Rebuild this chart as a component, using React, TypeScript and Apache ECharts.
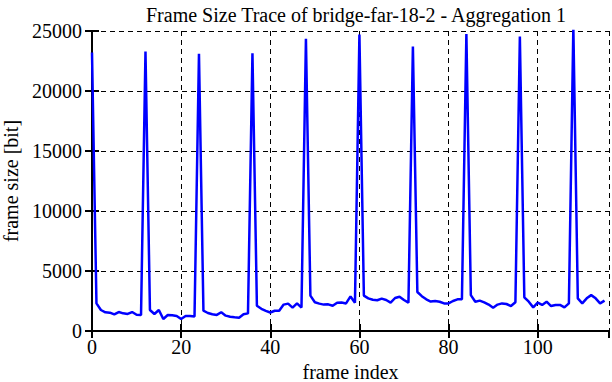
import React, { useEffect, useRef } from "react";
import * as echarts from "echarts";

const titleText = "Frame Size Trace of bridge-far-18-2 - Aggregation 1";
const xAxisName = "frame index";
const yAxisName = "frame size [bit]";

// frame sizes in bit, frames 0..115
const frameSizes: number[] = [
  23200, 2300, 1750, 1560, 1530, 1380, 1580, 1470, 1420, 1580, 1350, 1330,
  23300, 1750, 1420, 1750, 1000, 1330, 1310, 1250, 1000, 1250, 1250, 1200,
  23100, 1690, 1500, 1390, 1340, 1560, 1280, 1190, 1140, 1110, 1390, 1470,
  23150, 2100, 1850, 1680, 1540, 1690, 1690, 2200, 2280, 1950, 2300, 1950,
  24350, 2950, 2400, 2280, 2200, 2220, 2100, 2360, 2370, 2300, 2880, 2350,
  24700, 2950, 2720, 2600, 2560, 2700, 2580, 2360, 2750, 2850, 2580, 2360,
  23700, 3250, 2900, 2640, 2450, 2500, 2440, 2300, 2300, 2500, 2640, 2640,
  24750, 2990, 2440, 2530, 2390, 2200, 1940, 2200, 2300, 2250, 2080, 2390,
  24550, 2810, 2440, 1970, 2360, 2170, 2440, 2080, 2170, 2170, 1970, 2300,
  25300, 2720, 2300, 2720, 2990, 2720, 2300, 2530,
];

const xMin = 0;
const xMax = 116;
const xStep = 20;
const yMin = 0;
const yMax = 25000;
const yStep = 5000;

const FONT = "Liberation Serif";
const FS = 20;

export default function App() {
  const ref = useRef<HTMLDivElement>(null);
  useEffect(() => {
    if (!ref.current) return;
    const chart = echarts.init(ref.current, undefined, { renderer: "svg" });
    const seriesData = frameSizes.map((v, i) => [i, v]);
    const axisLine = { show: true, lineStyle: { color: "#000", width: 2 } };
    const tick = { show: true, inside: true, length: 7, lineStyle: { color: "#000", width: 2 } };
    const split = { show: true, lineStyle: { color: "#000", width: 1, type: [5, 4] as any } };
    chart.setOption({
      animation: false,
      backgroundColor: "#fff",
      textStyle: { fontFamily: FONT, color: "#000" },
      title: {
        text: titleText,
        left: 351,
        textAlign: "center",
        top: 0,
        textStyle: { fontFamily: FONT, fontSize: FS, fontWeight: "normal", color: "#000" },
      },
      grid: {
        left: 92,
        right: 3,
        top: 31,
        bottom: 51,
        containLabel: false,
        outerBoundsMode: "none",
      },
      xAxis: [
        {
          type: "value",
          min: xMin,
          max: xMax,
          interval: xStep,
          position: "bottom",
          axisLine,
          axisTick: tick,
          splitLine: split,
          axisLabel: {
            color: "#000",
            fontFamily: "Times New Roman",
            fontSize: FS,
            margin: 6,
            showMaxLabel: false,
            formatter: (v: number) => String(v),
          },
          name: xAxisName,
          nameLocation: "middle",
          nameGap: 31,
          nameTextStyle: { color: "#000", fontFamily: FONT, fontSize: FS },
        },
        {
          type: "value",
          min: xMin,
          max: xMax,
          interval: xStep,
          position: "top",
          axisLine,
          axisTick: tick,
          splitLine: { show: false },
          axisLabel: { show: false },
        },
      ],
      yAxis: [
        {
          type: "value",
          min: yMin,
          max: yMax,
          interval: yStep,
          position: "left",
          axisLine,
          axisTick: tick,
          splitLine: split,
          axisLabel: {
            color: "#000",
            fontFamily: "serif",
            fontSize: FS,
            margin: 10,
            formatter: (v: number) => String(v),
          },
          name: yAxisName,
          nameLocation: "middle",
          nameGap: 70,
          nameRotate: 90,
          nameTextStyle: { color: "#000", fontFamily: FONT, fontSize: FS },
        },
        {
          type: "value",
          min: yMin,
          max: yMax,
          interval: yStep,
          position: "right",
          axisLine,
          axisTick: tick,
          splitLine: { show: false },
          axisLabel: { show: false },
        },
      ],
      series: [
        {
          type: "line",
          data: seriesData,
          xAxisIndex: 0,
          yAxisIndex: 0,
          showSymbol: false,
          symbol: "none",
          clip: true,
          lineStyle: { color: "#0000ff", width: 2.5 },
        },
      ],
    });
    return () => chart.dispose();
  }, []);
  return <div ref={ref} style={{ width: 612, height: 382, position: "absolute", left: 0, top: 0 }} />;
}
